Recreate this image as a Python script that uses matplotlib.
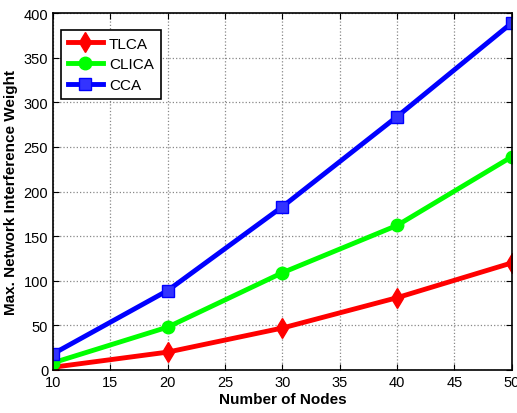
import matplotlib
matplotlib.use('Agg')
import matplotlib.pyplot as plt

plt.rcParams['font.family'] = ['Liberation Sans', 'DejaVu Sans']

# data
nodes = [10, 20, 30, 40, 50]
tlca = [3, 20, 47, 81, 120]
clica = [8, 48, 109, 162, 239]
cca = [18, 89, 183, 284, 389]

fig = plt.figure(figsize=(5.17, 4.14), dpi=100)
ax = fig.add_axes([0.1025, 0.104, 0.8875, 0.862])

ax.plot(nodes, tlca, color='#ff0000', lw=3.5, marker='d', ms=10, label='TLCA')
ax.plot(nodes, clica, color='#00ff00', lw=3.5, marker='o', ms=9, label='CLICA')
ax.plot(nodes, cca, color='#0000ff', lw=3.5, marker='s', ms=9,
        markerfacecolor='#3333ff', label='CCA')

ax.set_xlim(10, 50)
ax.set_ylim(0, 400)
ax.set_xticks(range(10, 51, 5))
ax.set_yticks(range(0, 401, 50))
ax.grid(True, color='#888888', linestyle=':', linewidth=0.9)
ax.tick_params(direction='in', top=True, right=True, labelsize=10.5, length=4)
for s in ax.spines.values():
    s.set_linewidth(1.2)

ax.set_xlabel('Number of Nodes', fontsize=11, fontweight='bold', labelpad=2)
ax.set_ylabel('Max. Network Interference Weight', fontsize=11, fontweight='bold', labelpad=4)

leg = ax.legend(loc='upper left', bbox_to_anchor=(0.0, 0.975), fontsize=11,
                fancybox=False, edgecolor='black', framealpha=1,
                handlelength=2.3, handletextpad=0.4, borderpad=0.45,
                labelspacing=0.45, borderaxespad=0.5)
leg.get_frame().set_linewidth(1.2)

fig.savefig('out.png', dpi=100)
